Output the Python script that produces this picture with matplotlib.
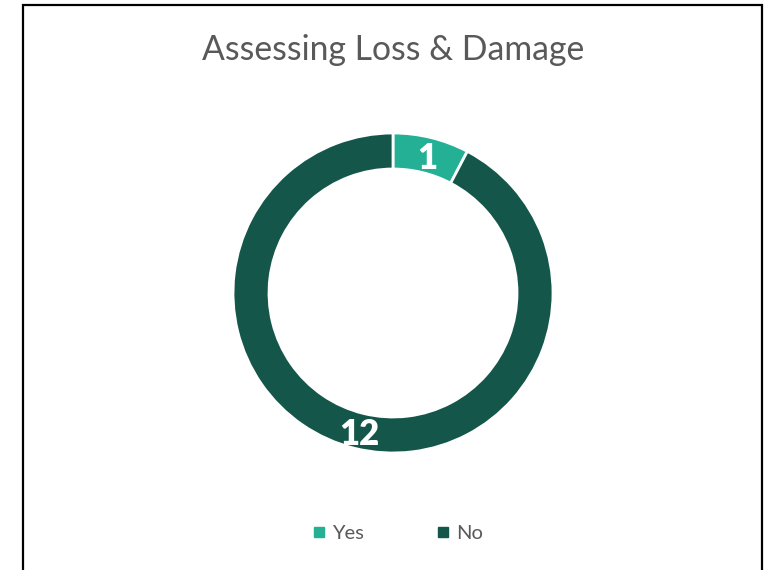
import matplotlib
matplotlib.use("Agg")
import matplotlib.pyplot as plt
from matplotlib.patches import Rectangle
from matplotlib.lines import Line2D
import numpy as np

categories = ["Yes", "No"]
values = [1, 12]
colors = ["#23B095", "#14574A"]
title = "Assessing Loss & Damage"

plt.rcParams['font.family'] = ['Lato', 'DejaVu Sans']

W, H = 771, 570
fig = plt.figure(figsize=(W/100, H/100), dpi=100)

# border
fig.patches.append(Rectangle((23/W, -0.05), (762-23)/W, 1.05 - 5/H,
                             transform=fig.transFigure, fill=False,
                             edgecolor="black", linewidth=1.6, zorder=10))

cx, cy, r = 393, 293, 160
ax = fig.add_axes([(cx-r)/W, (H-cy-r)/H, 2*r/W, 2*r/H])
ax.pie(values, colors=colors, startangle=90, counterclock=False,
       radius=1.0, wedgeprops=dict(width=0.225, edgecolor="white", linewidth=2))
ax.set_xlim(-1, 1)
ax.set_ylim(-1, 1)
ax.set_aspect("equal")
ax.axis("off")

total = sum(values)
start = 90.0
for v in values:
    ang = start - v/total*360/2
    rad = np.deg2rad(ang)
    rm = 1 - 0.225/2
    ax.text(rm*np.cos(rad), rm*np.sin(rad) - 0.02, str(v), ha="center", va="center",
            color="white", fontsize=25, fontweight="heavy")
    start -= v/total*360

fig.text(cx/W, 1 - 50/H, title, ha="center", va="center", fontsize=24.3, color="#595959")

handles = [Line2D([0], [0], marker="s", linestyle="none", markersize=7.5,
                  markerfacecolor=c, markeredgecolor=c) for c in colors]
fig.legend(handles, categories, loc="center", bbox_to_anchor=(397/W, 1 - 533/H),
           ncol=2, frameon=False, fontsize=14.5, labelcolor="#595959",
           handletextpad=0.25, columnspacing=3.5, handlelength=0.8)

fig.savefig("out.png", dpi=100)
